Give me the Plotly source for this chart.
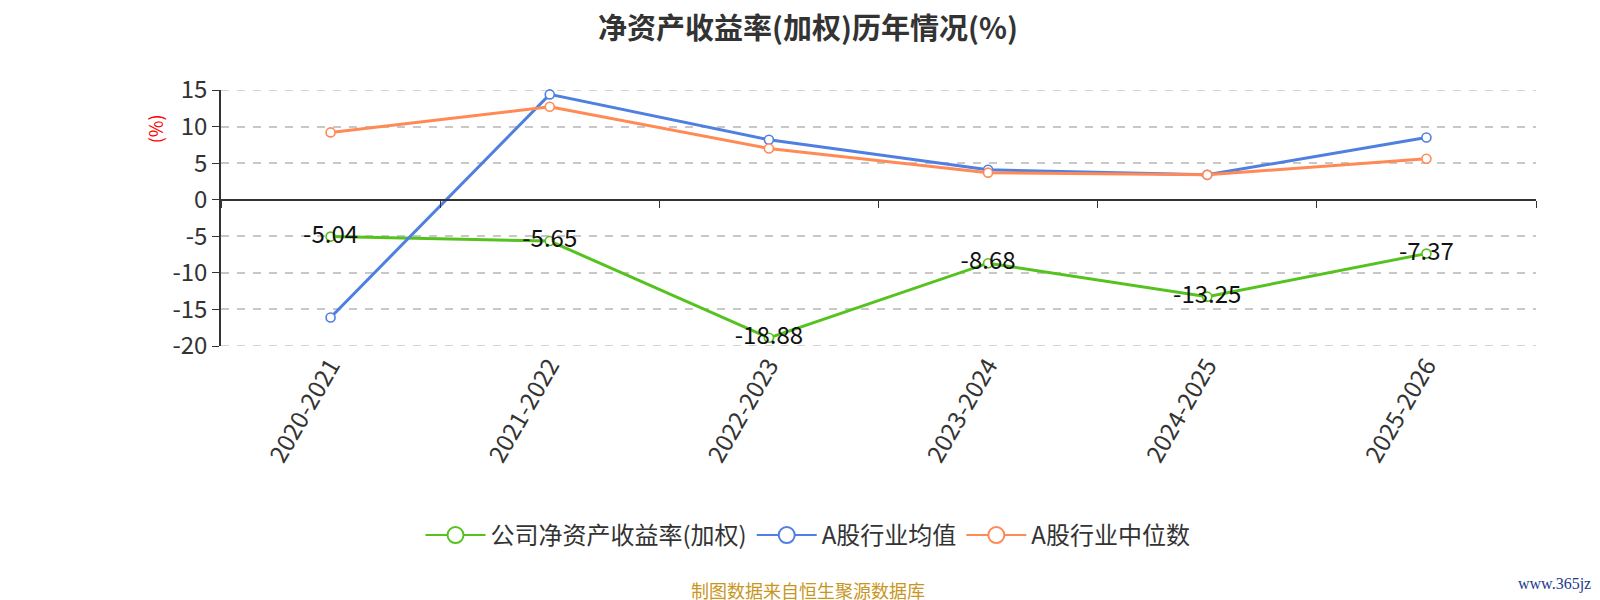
import plotly.graph_objects as go

# Data
years = ['2020-2021', '2021-2022', '2022-2023', '2023-2024', '2024-2025', '2025-2026']
company_roe = [-5.04, -5.65, -18.88, -8.68, -13.25, -7.37]
industry_mean = [-16.1, 14.4, 8.2, 4.1, 3.4, 8.5]
industry_median = [9.2, 12.7, 7.0, 3.7, 3.4, 5.6]

y_ticks = [-20, -15, -10, -5, 0, 5, 10, 15]
y_min, y_max = y_ticks[0], y_ticks[-1]
font_family = 'Noto Sans CJK SC, Noto Sans, sans-serif'

green = '#55c21f'
blue = '#4e7fe1'
orange = '#ff8a56'
grid_color = '#c8c8c8'
grid_dash = '8px,8px'

fig = go.Figure()


def add_line(name, values, color, labels=False):
    fig.add_trace(go.Scatter(
        x=years,
        y=values,
        name=name,
        legendgroup=name,
        showlegend=False,
        mode='lines+markers+text' if labels else 'lines+markers',
        text=[f'{v:.2f}' for v in values] if labels else None,
        textposition='middle center',
        textfont=dict(size=24, color='#111111'),
        line=dict(color=color, width=3),
        marker=dict(symbol='circle', size=9, color='white',
                    line=dict(color=color, width=1.6)),
        cliponaxis=False,
    ))
    # legend-only entry with a bigger open circle, like the reference
    fig.add_trace(go.Scatter(
        x=[years[0]], y=[None], name=name, legendgroup=name,
        mode='lines+markers', hoverinfo='skip',
        line=dict(color=color, width=2),
        marker=dict(symbol='circle', size=16, color='white',
                    line=dict(color=color, width=2)),
    ))


add_line('公司净资产收益率(加权)', company_roe, green, labels=True)
add_line('A股行业均值', industry_mean, blue)
add_line('A股行业中位数', industry_median, orange)

# helper trace so the zero-level category axis gets drawn
fig.add_trace(go.Scatter(
    x=years, y=[None] * len(years), xaxis='x2', showlegend=False,
    hoverinfo='skip', mode='markers',
))

left, right = 213, 72
page_center = (800 - left) / (1600 - left - right)

fig.update_layout(
    width=1600,
    height=600,
    paper_bgcolor='white',
    plot_bgcolor='white',
    font=dict(family=font_family, color='#333333'),
    margin=dict(l=left, r=right, t=82, b=262, autoexpand=False),
    title=dict(
        text='<b>净资产收益率(加权)历年情况(%)</b>',
        x=0.5, xanchor='center', y=0.966, yanchor='middle',
        font=dict(size=29, color='#333333'),
    ),
    xaxis=dict(
        type='category',
        range=[-0.5, len(years) - 0.5],
        showline=False,
        showgrid=False,
        zeroline=False,
        ticks='',
        tickangle=-60,
        tickfont=dict(size=24, color='#333333'),
    ),
    xaxis2=dict(
        type='category',
        overlaying='x',
        matches='x',
        anchor='free',
        position=(0 - y_min) / (y_max - y_min),
        showline=True,
        linecolor='#333333',
        linewidth=1.6,
        ticks='outside',
        tickson='boundaries',
        ticklen=7,
        tickwidth=1.4,
        tickcolor='#333333',
        showticklabels=False,
        showgrid=False,
        zeroline=False,
    ),
    yaxis=dict(
        range=[y_min, y_max],
        tickvals=y_ticks,
        ticktext=[str(v) for v in y_ticks],
        showline=True,
        linecolor='#333333',
        linewidth=1.6,
        ticks='outside',
        ticklen=7,
        tickwidth=1.4,
        tickcolor='#333333',
        tickfont=dict(size=24, color='#333333'),
        showgrid=True,
        gridcolor=grid_color,
        griddash=grid_dash,
        gridwidth=1.6,
        zeroline=False,
    ),
    legend=dict(
        orientation='h',
        x=page_center, xanchor='center',
        y=-0.74, yanchor='middle',
        font=dict(size=24, color='#333333'),
        itemwidth=60,
        tracegroupgap=0,
    ),
    showlegend=True,
)

# grid lines at the axis ends (plotly skips them at the range edges)
for level in (y_min, y_max):
    fig.add_shape(
        type='line', xref='paper', yref='y', x0=0, x1=1, y0=level, y1=level,
        line=dict(color=grid_color, width=1.6, dash=grid_dash), layer='below',
    )

fig.add_annotation(
    text='(%)', xref='paper', yref='paper', x=-0.062, y=0.913,
    showarrow=False, textangle=-90, font=dict(size=18, color='red'),
)
fig.add_annotation(
    text='制图数据来自恒生聚源数据库', xref='paper', yref='paper',
    x=page_center, y=-0.953, xanchor='center', yanchor='middle', showarrow=False,
    font=dict(size=18, color='#c8961e'),
)
fig.add_annotation(
    text='www.365jz.com', xref='paper', yref='paper',
    x=0.985, y=-0.93, xanchor='left', yanchor='middle', showarrow=False,
    font=dict(size=16, color='#1c3a8c', family='Liberation Serif, serif'),
)

fig.write_html('out.html')
